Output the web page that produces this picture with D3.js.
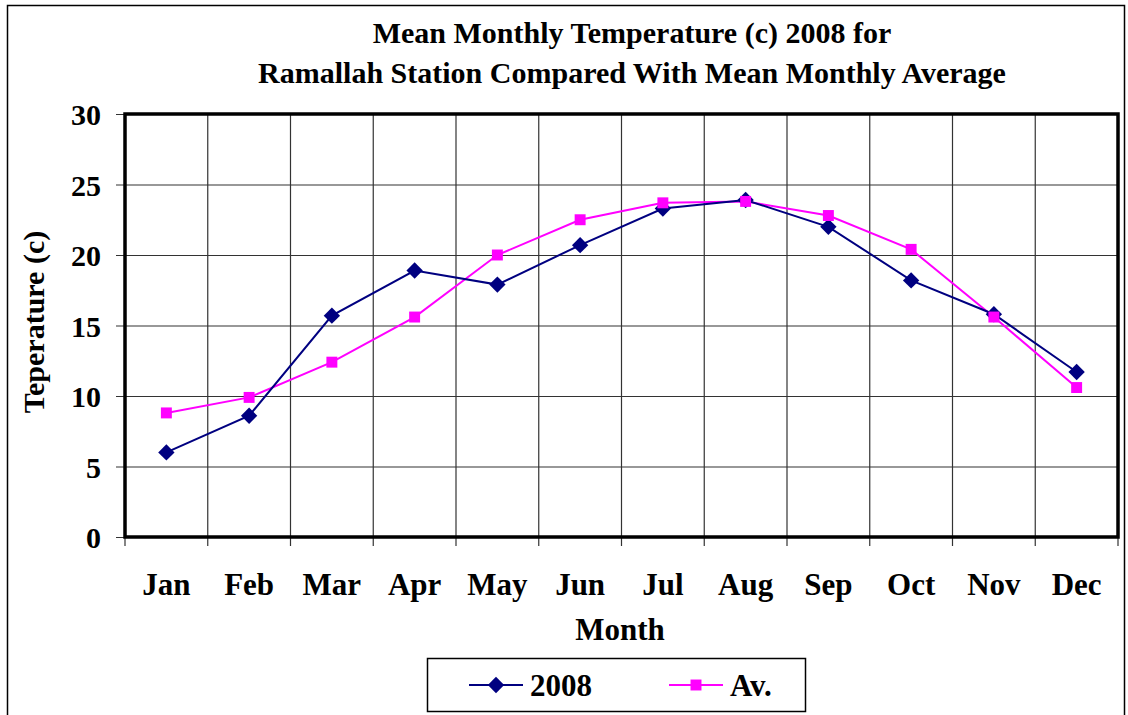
<!DOCTYPE html>
<html>
<head>
<meta charset="utf-8">
<script src="https://cdn.jsdelivr.net/npm/d3@7"></script>
<style>
  body { margin: 0; background: #fff; }
  svg text { font-family: "Liberation Serif", "Times New Roman", serif; font-weight: bold; }
</style>
</head>
<body>
<script>
// data
var months = ["Jan", "Feb", "Mar", "Apr", "May", "Jun", "Jul", "Aug", "Sep", "Oct", "Nov", "Dec"];
var temp2008 = [6.0, 8.6, 15.7, 18.9, 17.9, 20.7, 23.3, 23.9, 22.0, 18.2, 15.8, 11.7];
var tempAvg = [8.8, 9.9, 12.4, 15.6, 20.0, 22.5, 23.7, 23.8, 22.8, 20.4, 15.6, 10.6];
var yTicks = [0, 5, 10, 15, 20, 25, 30];

var W = 1128, H = 715;
var margin = { top: 114, right: 10, bottom: 178, left: 125 };
var width = 1118 - margin.left;
var height = 537 - margin.top;

var svg = d3.select("body").append("svg")
    .attr("width", W)
    .attr("height", H);

// outer chart border
svg.append("rect")
    .attr("x", 7.5).attr("y", 5.5)
    .attr("width", 1117).attr("height", 720)
    .attr("fill", "none")
    .attr("stroke", "#000")
    .attr("stroke-width", 1.5);

var x = d3.scaleBand().domain(months).range([0, width]).padding(0);
var y = d3.scaleLinear().domain([0, 30]).range([height, 0]);

var g = svg.append("g")
    .attr("transform", "translate(" + margin.left + "," + margin.top + ")");

// vertical gridlines at category boundaries
var bounds = months.map(function (m) { return x(m); }).concat([width]);
g.selectAll(".vgrid")
    .data(bounds)
    .enter().append("line")
    .attr("class", "vgrid")
    .attr("x1", function (d) { return d; })
    .attr("x2", function (d) { return d; })
    .attr("y1", 0)
    .attr("y2", height + 9)
    .attr("stroke", "#333")
    .attr("stroke-width", 1.2);

// y axis with horizontal gridlines
g.append("g")
    .attr("class", "y axis")
    .call(d3.axisLeft(y).tickValues(yTicks).tickSize(-width).tickPadding(24))
    .call(function (ax) {
        ax.select(".domain").remove();
        ax.selectAll(".tick line")
            .attr("x1", -9)
            .attr("stroke", "#333")
            .attr("stroke-width", 1.2);
        ax.selectAll(".tick text")
            .attr("font-size", 30)
            .attr("fill", "#000")
            .attr("dy", "0.35em");
    });

// plot area frame
g.append("rect")
    .attr("x", 0).attr("y", 0)
    .attr("width", width).attr("height", height)
    .attr("fill", "none")
    .attr("stroke", "#000")
    .attr("stroke-width", 3.5);

// month labels
g.selectAll(".mlabel")
    .data(months)
    .enter().append("text")
    .attr("class", "mlabel")
    .attr("x", function (d) { return x(d) + x.bandwidth() / 2; })
    .attr("y", height + 58)
    .attr("text-anchor", "middle")
    .attr("font-size", 31)
    .text(function (d) { return d; });

var cx = function (d, i) { return x(months[i]) + x.bandwidth() / 2; };

var line2008 = d3.line().x(cx).y(function (d) { return y(d); });

g.append("path")
    .datum(tempAvg)
    .attr("fill", "none")
    .attr("stroke", "#ff00ff")
    .attr("stroke-width", 2)
    .attr("d", line2008);

g.append("path")
    .datum(temp2008)
    .attr("fill", "none")
    .attr("stroke", "#000080")
    .attr("stroke-width", 2)
    .attr("d", line2008);

var diamond = d3.symbol().type(d3.symbolDiamond2).size(170);
var square = d3.symbol().type(d3.symbolSquare).size(120);

g.selectAll(".m2008")
    .data(temp2008)
    .enter().append("path")
    .attr("class", "m2008")
    .attr("transform", function (d, i) { return "translate(" + cx(d, i) + "," + y(d) + ")"; })
    .attr("d", diamond)
    .attr("fill", "#000080");

g.selectAll(".mavg")
    .data(tempAvg)
    .enter().append("path")
    .attr("class", "mavg")
    .attr("transform", function (d, i) { return "translate(" + cx(d, i) + "," + y(d) + ")"; })
    .attr("d", square)
    .attr("fill", "#ff00ff");

// titles
svg.append("text")
    .attr("x", 632).attr("y", 43)
    .attr("text-anchor", "middle")
    .attr("font-size", 30)
    .text("Mean Monthly Temperature (c) 2008 for");
svg.append("text")
    .attr("x", 632).attr("y", 83)
    .attr("text-anchor", "middle")
    .attr("font-size", 30)
    .text("Ramallah Station Compared With Mean Monthly Average");

svg.append("text")
    .attr("x", 620).attr("y", 640)
    .attr("text-anchor", "middle")
    .attr("font-size", 31)
    .text("Month");

svg.append("text")
    .attr("transform", "translate(44,322) rotate(-90)")
    .attr("text-anchor", "middle")
    .attr("font-size", 30)
    .text("Teperature (c)");

// legend
var legend = svg.append("g");
legend.append("rect")
    .attr("x", 427.5).attr("y", 658.5)
    .attr("width", 378).attr("height", 53)
    .attr("fill", "#fff")
    .attr("stroke", "#000")
    .attr("stroke-width", 1.5);

var legItems = [
    { name: "2008", color: "#000080", sym: diamond, x0: 469, tx: 530 },
    { name: "Av.", color: "#ff00ff", sym: square, x0: 669, tx: 730 }
];
legItems.forEach(function (d) {
    legend.append("line")
        .attr("x1", d.x0).attr("x2", d.x0 + 54)
        .attr("y1", 685).attr("y2", 685)
        .attr("stroke", d.color)
        .attr("stroke-width", 2);
    legend.append("path")
        .attr("transform", "translate(" + (d.x0 + 27) + ",685)")
        .attr("d", d.sym)
        .attr("fill", d.color);
    legend.append("text")
        .attr("x", d.tx).attr("y", 696)
        .attr("font-size", 31)
        .text(d.name);
});
</script>
</body>
</html>
